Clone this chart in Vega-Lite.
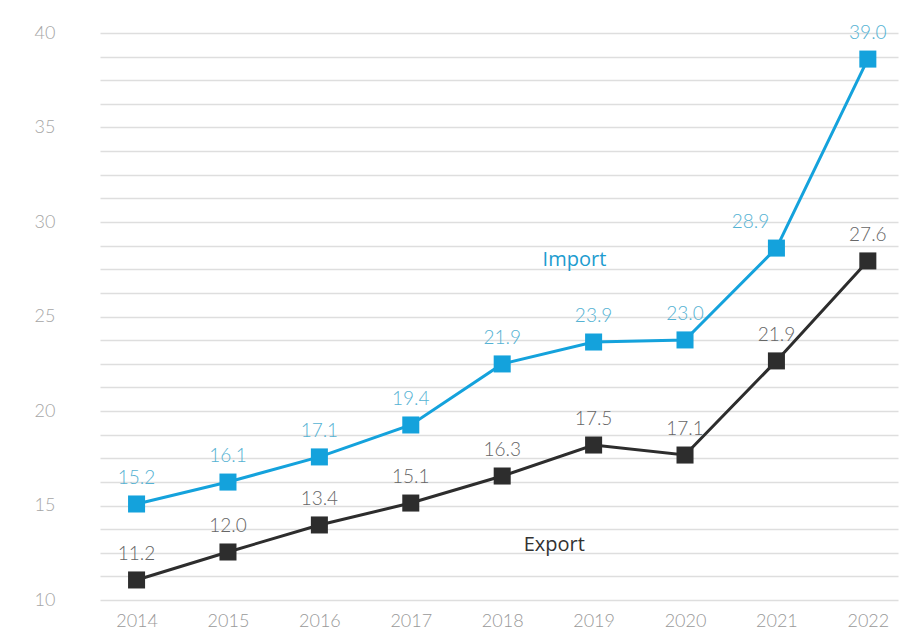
{
  "$schema": "https://vega.github.io/schema/vega-lite/v6.json",
  "width": 798,
  "height": 567,
  "autosize": "none",
  "padding": {"left": 100, "top": 33, "right": 5, "bottom": 36},
  "background": "#ffffff",
  "config": {"view": {"stroke": null}, "font": "Lato"},
  "datasets": {
    "series": [
      {"year": 2014, "series": "Import", "value": 15.08, "label": "15.2"},
      {"year": 2015, "series": "Import", "value": 16.24, "label": "16.1"},
      {"year": 2016, "series": "Import", "value": 17.57, "label": "17.1"},
      {"year": 2017, "series": "Import", "value": 19.26, "label": "19.4"},
      {"year": 2018, "series": "Import", "value": 22.49, "label": "21.9"},
      {"year": 2019, "series": "Import", "value": 23.65, "label": "23.9"},
      {"year": 2020, "series": "Import", "value": 23.76, "label": "23.0"},
      {"year": 2021, "series": "Import", "value": 28.62, "label": "28.9"},
      {"year": 2022, "series": "Import", "value": 38.62, "label": "39.0"},
      {"year": 2014, "series": "Export", "value": 11.06, "label": "11.2"},
      {"year": 2015, "series": "Export", "value": 12.54, "label": "12.0"},
      {"year": 2016, "series": "Export", "value": 13.97, "label": "13.4"},
      {"year": 2017, "series": "Export", "value": 15.13, "label": "15.1"},
      {"year": 2018, "series": "Export", "value": 16.56, "label": "16.3"},
      {"year": 2019, "series": "Export", "value": 18.2, "label": "17.5"},
      {"year": 2020, "series": "Export", "value": 17.67, "label": "17.1"},
      {"year": 2021, "series": "Export", "value": 22.65, "label": "21.9"},
      {"year": 2022, "series": "Export", "value": 27.94, "label": "27.6"}
    ],
    "names": [
      {"year": 2018.79, "value": 27.99, "series": "Import"},
      {"year": 2018.57, "value": 12.91, "series": "Export"}
    ]
  },
  "encoding": {
    "x": {
      "field": "year",
      "type": "quantitative",
      "scale": {"domain": [2013.6, 2022.33], "nice": false, "zero": false},
      "axis": {
        "values": [2014, 2015, 2016, 2017, 2018, 2019, 2020, 2021, 2022],
        "format": "d",
        "title": null,
        "grid": false,
        "domain": false,
        "ticks": false,
        "tickSize": 0,
        "labelPadding": 12,
        "labelFontSize": 18,
        "labelColor": "#999999",
        "labelFont": "Lato",
        "labelFontWeight": 300
      }
    },
    "y": {
      "field": "value",
      "type": "quantitative",
      "scale": {"domain": [10, 40], "nice": false, "zero": false},
      "axis": {
        "values": [10, 11.25, 12.5, 13.75, 15, 16.25, 17.5, 18.75, 20, 21.25, 22.5, 23.75, 25, 26.25, 27.5, 28.75, 30, 31.25, 32.5, 33.75, 35, 36.25, 37.5, 38.75, 40],
        "labelExpr": "datum.value % 5 === 0 ? datum.label : ''",
        "title": null,
        "grid": true,
        "gridColor": "#dedede",
        "gridWidth": 1.5,
        "domain": false,
        "ticks": false,
        "tickSize": 0,
        "labelAlign": "left",
        "labelPadding": 66,
        "labelFontSize": 18,
        "labelColor": "#a5a5a5",
        "labelFont": "Lato",
        "labelFontWeight": 300
      }
    }
  },
  "layer": [
    {
      "data": {"name": "series"},
      "mark": {"type": "line", "strokeWidth": 3},
      "encoding": {
        "color": {
          "field": "series",
          "type": "nominal",
          "scale": {"domain": ["Import", "Export"], "range": ["#14a2dc", "#2d2d2d"]},
          "legend": null
        }
      }
    },
    {
      "data": {"name": "series"},
      "mark": {"type": "point", "shape": "square", "filled": true, "opacity": 1, "size": 290},
      "encoding": {
        "color": {"field": "series", "type": "nominal", "legend": null}
      }
    },
    {
      "data": {"name": "series"},
      "transform": [{"filter": "!(datum.series === 'Import' && datum.year === 2021)"}],
      "mark": {"type": "text", "dy": -20, "baseline": "alphabetic", "fontSize": 19, "font": "Lato", "fontWeight": 300},
      "encoding": {
        "text": {"field": "label"},
        "color": {
          "condition": {"test": "datum.series === 'Import'", "value": "#55b2d3"},
          "value": "#666666"
        }
      }
    },
    {
      "data": {"name": "series"},
      "transform": [{"filter": "datum.series === 'Import' && datum.year === 2021"}],
      "mark": {"type": "text", "dy": -20, "dx": -26, "baseline": "alphabetic", "fontSize": 19, "font": "Lato", "fontWeight": 300, "color": "#55b2d3"},
      "encoding": {
        "text": {"field": "label"}
      }
    },
    {
      "data": {"name": "names"},
      "mark": {"type": "text", "baseline": "middle", "fontSize": 20, "font": "Open Sans"},
      "encoding": {
        "text": {"field": "series"},
        "color": {
          "condition": {"test": "datum.series === 'Import'", "value": "#1d9ccf"},
          "value": "#333333"
        }
      }
    }
  ]
}
